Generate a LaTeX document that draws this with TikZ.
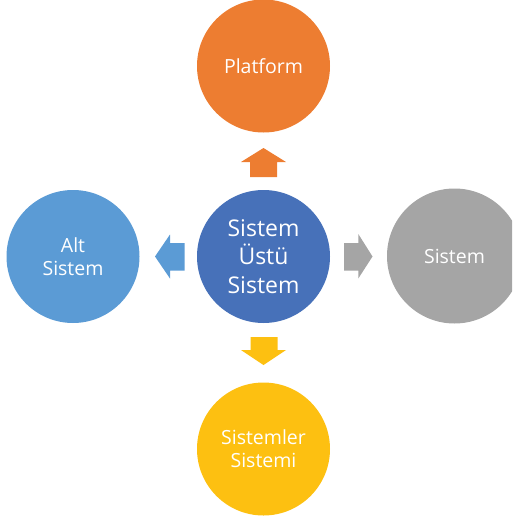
\documentclass[tikz,border=0pt]{standalone}
\usepackage{fontspec}
\setmainfont{Open Sans}
\definecolor{cOrange}{HTML}{ED7D31}
\definecolor{cCenter}{HTML}{4771B9}
\definecolor{cLeft}{HTML}{5B9BD5}
\definecolor{cGray}{HTML}{A5A5A5}
\definecolor{cYellow}{HTML}{FDC011}
\tikzset{
  bubble/.style={circle, minimum size=133pt, inner sep=0pt, text=white, align=center,
    font=\fontsize{19.5}{23}\selectfont},
  bigbubble/.style={bubble, font=\fontsize{23}{28.5}\selectfont},
  blockarrow/.style={draw=none}
}
\begin{document}
\begin{tikzpicture}[x=1pt,y=-1pt]
\useasboundingbox (0,0) rectangle (512,517);
\clip (0,0) rectangle (512,517);
\node[bigbubble, fill=cCenter] (center) at (263.5,256.5) {Sistem\\Üstü\\Sistem};
\node[bubble, fill=cOrange] (top) at (263.5,66) {Platform};
\node[bubble, fill=cLeft] (left) at (73,256.5) {Alt\\Sistem};
\node[bubble, fill=cGray, minimum size=135pt] (right) at (454.5,256) {Sistem};
\node[bubble, fill=cYellow] (bottom) at (263.5,449) {Sistemler\\Sistemi};
% up arrow
\fill[cOrange] (263.5,148) -- (286,162) -- (277,162) -- (277,177) -- (250,177) -- (250,162) -- (241,162) -- cycle;
% down arrow
\fill[cYellow] (263.5,365) -- (286,350) -- (277.5,350) -- (277.5,337) -- (250.5,337) -- (250.5,350) -- (241,350) -- cycle;
% left arrow
\fill[cLeft] (155,256.5) -- (170,234.5) -- (170,243) -- (184.5,243) -- (184.5,270.5) -- (170,270.5) -- (170,278.5) -- cycle;
% right arrow
\fill[cGray] (372.5,256.5) -- (358.3,234) -- (358.3,243) -- (344,243) -- (344,270.5) -- (358.3,270.5) -- (358.3,278.5) -- cycle;
\end{tikzpicture}
\end{document}
